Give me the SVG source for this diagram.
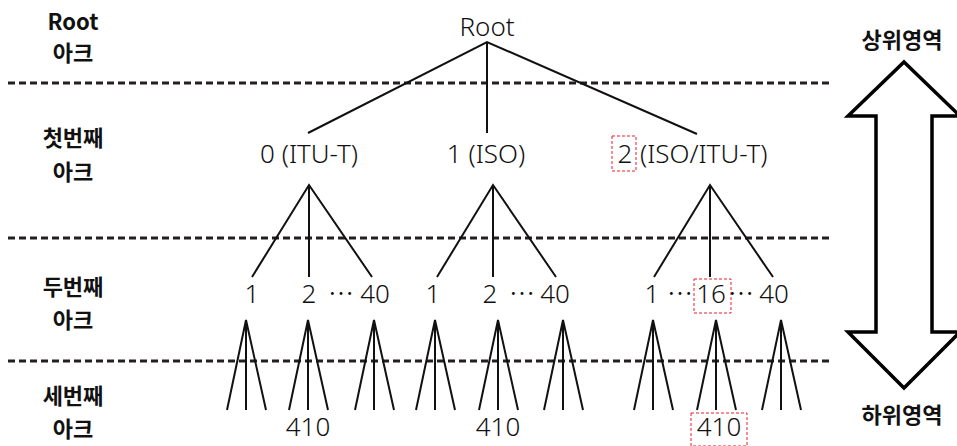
<svg xmlns="http://www.w3.org/2000/svg" width="957" height="446" viewBox="0 0 957 446">
<style>
.lbl{font-family:"Noto Sans CJK KR","Noto Sans",sans-serif;font-weight:700;font-size:22px;fill:#111;text-anchor:middle}
.t{font-family:"Noto Sans","Noto Sans CJK KR",sans-serif;font-weight:300;font-size:26px;fill:#111;text-anchor:middle}
.sep{stroke:#231f20;stroke-width:3;stroke-dasharray:7 4;fill:none}
.ln{stroke:#111;stroke-width:2;fill:none}
.hl{fill:none;stroke:#e8202a;stroke-width:1;stroke-dasharray:3 2}
</style>
<rect width="957" height="446" fill="#fff"/>
<g id="separators">
<line class="sep" x1="8" y1="83" x2="830" y2="83"/>
<line class="sep" x1="8" y1="238" x2="830" y2="238"/>
<line class="sep" x1="8" y1="361" x2="830" y2="361"/>
</g>
<g id="level-labels">
<text class="lbl" x="73" y="30">Root</text>
<text class="lbl" x="73" y="61">아크</text>
<text class="lbl" x="73" y="146">첫번째</text>
<text class="lbl" x="73" y="180">아크</text>
<text class="lbl" x="73" y="295">두번째</text>
<text class="lbl" x="73" y="328">아크</text>
<text class="lbl" x="73" y="404">세번째</text>
<text class="lbl" x="73" y="437">아크</text>
</g>
<g id="connectors">
<path class="ln" d="M308,133 L487,42 L697,134 M487,42 L487,133"/>
<path class="ln" d="M252,277 L309,185 L372,277 M309,185 L309,277"/>
<path class="ln" d="M437,277 L493,185 L556,277 M493,185 L493,277"/>
<path class="ln" d="M654,277 L710,185 L773,277 M710,185 L710,277"/>
<path class="ln" d="M227,410 L246,320 L266,410 M246,320 L246,410"/>
<path class="ln" d="M289,410 L308,320 L328,410 M308,320 L308,410"/>
<path class="ln" d="M355,410 L374,320 L394,410 M374,320 L374,410"/>
<path class="ln" d="M416,410 L435,320 L455,410 M435,320 L435,410"/>
<path class="ln" d="M479,410 L498,320 L518,410 M498,320 L498,410"/>
<path class="ln" d="M544,410 L563,320 L583,410 M563,320 L563,410"/>
<path class="ln" d="M634,410 L653,320 L673,410 M653,320 L653,410"/>
<path class="ln" d="M697,410 L716,320 L736,410 M716,320 L716,410"/>
<path class="ln" d="M762,410 L781,320 L801,410 M781,320 L781,410"/>
</g>
<g id="root"><text class="t" x="487" y="36">Root</text></g>
<g id="n0"><text class="t" x="309" y="163">0 (ITU-T)</text></g>
<g id="n1"><text class="t" x="486" y="163">1 (ISO)</text></g>
<g id="n2">
<rect class="hl" x="612" y="136" width="24" height="35"/>
<text class="t" x="625" y="163">2</text>
<text class="t" x="640" y="163" style="text-anchor:start">(ISO/ITU-T)</text>
</g>
<g id="n0-children">
<text class="t" x="252" y="303">1</text>
<text class="t" x="309" y="303">2</text>
<text class="t" x="341" y="303">⋯</text>
<text class="t" x="375" y="303">40</text>
</g>
<g id="n1-children">
<text class="t" x="433" y="303">1</text>
<text class="t" x="490" y="303">2</text>
<text class="t" x="522" y="303">⋯</text>
<text class="t" x="555" y="303">40</text>
</g>
<g id="n2-children">
<text class="t" x="652" y="303">1</text>
<text class="t" x="680" y="303">⋯</text>
<rect class="hl" x="694" y="279" width="37" height="34"/>
<text class="t" x="711" y="303">16</text>
<text class="t" x="741" y="303">⋯</text>
<text class="t" x="774" y="303">40</text>
</g>
<g id="third-arcs">
<text class="t" x="308" y="436">410</text>
<text class="t" x="498" y="436">410</text>
<rect class="hl" x="691" y="413" width="56" height="33"/>
<text class="t" x="719" y="436">410</text>
</g>
<g id="range-arrow">
<polygon points="904,62 960,116 932,116 932,332 960,332 904,388 848,332 876,332 876,116 848,116" fill="#fff" stroke="#000" stroke-width="3.5" stroke-linejoin="miter"/>
<text class="lbl" x="902" y="48">상위영역</text>
<text class="lbl" x="902" y="423">하위영역</text>
</g>
</svg>
